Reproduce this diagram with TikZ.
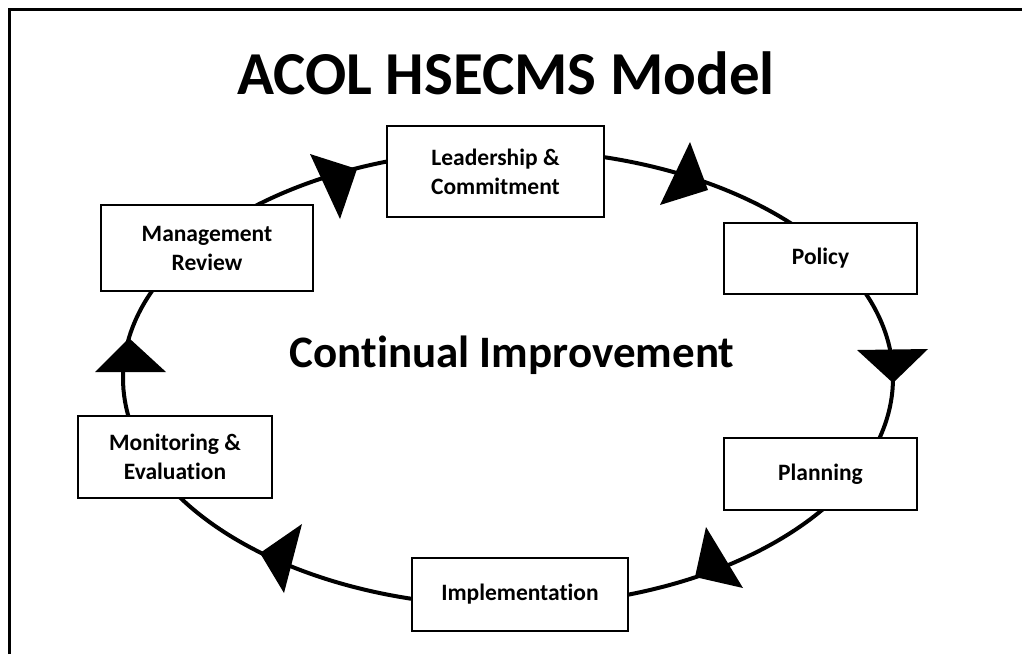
\documentclass[tikz,border=0pt]{standalone}
\usepackage{fontspec}
\setmainfont{Carlito}[Ligatures=NoCommon]
\begin{document}
\begin{tikzpicture}[x=1pt,y=-1pt,
  stagebox/.style={draw, line width=1.6pt, fill=white, align=center, inner sep=0pt,
    font=\bfseries\fontsize{23.5}{29}\selectfont},
  cyclearc/.style={line width=4pt},
  arrowtip/.style={fill=black},
  frameline/.style={line width=3.6pt}]
\useasboundingbox (0,0) rectangle (1022,654);
\fill[white] (0,0) rectangle (1022,654);
\draw[frameline] (9.5,654) -- (9.5,9.5) -- (1022,9.5);
\node[anchor=base, font=\bfseries\fontsize{61}{70}\selectfont] (title) at (506,94) {ACOL HSECMS Model};
\draw[cyclearc] (508,378) ellipse [x radius=385pt, y radius=228pt];
\node[anchor=base, font=\bfseries\fontsize{45}{50}\selectfont] (center) at (512,367) {Continual Improvement};
\node[stagebox, minimum width=217pt, minimum height=91pt] (lead) at (495.5,171.5) {Leadership \&\\Commitment};
\node[stagebox, minimum width=193pt, minimum height=71pt] (policy) at (820.5,258.5) {Policy};
\node[stagebox, minimum width=193pt, minimum height=72pt] (plan) at (820.5,474) {Planning};
\node[stagebox, minimum width=216pt, minimum height=73pt] (impl) at (520,594.5) {Implementation};
\node[stagebox, minimum width=194pt, minimum height=82pt] (mon) at (175,457) {Monitoring \&\\Evaluation};
\node[stagebox, minimum width=212pt, minimum height=86pt] (mgmt) at (207,248) {Management\\Review};
\fill[arrowtip] (357,169) -- (310,154) -- (340,219) -- cycle;
\fill[arrowtip] (708,190) -- (690,142) -- (660,205) -- cycle;
\fill[arrowtip] (893,383) -- (857,350) -- (928,349) -- cycle;
\fill[arrowtip] (695,577) -- (743,588) -- (706,527) -- cycle;
\fill[arrowtip] (260,553) -- (302,524) -- (284,593) -- cycle;
\fill[arrowtip] (129,338) -- (95,372) -- (166,372) -- cycle;
\end{tikzpicture}
\end{document}
